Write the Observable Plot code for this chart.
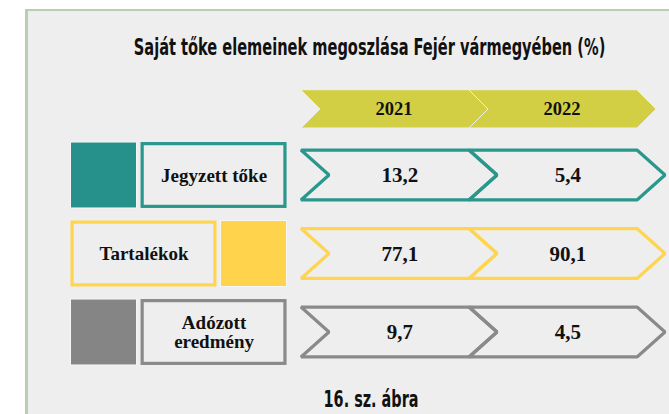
<!DOCTYPE html>
<html>
<head>
<meta charset="utf-8">
<script src="https://cdn.jsdelivr.net/npm/d3@7"></script>
<script src="https://cdn.jsdelivr.net/npm/@observablehq/plot@0.6"></script>
<style>
  html, body { margin: 0; padding: 0; background: #ffffff; }
  #wrap { position: relative; width: 669px; height: 414px; overflow: hidden; background: #ffffff; }
  #panel { position: absolute; left: 25px; top: 9px; width: 644px; height: 405px; box-sizing: border-box;
           background: #eeeeee; border-left: 3px solid #b7ceb2; border-top: 2px solid #b7ceb2; }
  #chart { position: absolute; left: 0; top: 0; }
</style>
</head>
<body>
<div id="wrap"><div id="panel"></div><div id="chart"></div></div>
<script>
// ---- data ----
const title = "Saját tőke elemeinek megoszlása Fejér vármegyében (%)";
const caption = "16. sz. ábra";
const categories = ["Jegyzett tőke", "Tartalékok", "Adózott eredmény"];
const categoryLabels = ["Jegyzett tőke", "Tartalékok", "Adózott\neredmény"];
const years = ["2021", "2022"];
const values2021 = [13.2, 77.1, 9.7];
const values2022 = [5.4, 90.1, 4.5];

// ---- styles ----
const lineColors = ["#2a978d", "#ffd54f", "#8a8a8a"];
const fillColors = ["#25918a", "#ffd44c", "#858585"];
const headerFill = "#d3cf45";
const serif = "Liberation Serif, 'Times New Roman', Times, serif";
const narrow = "'Liberation Sans Narrow', 'DejaVu Sans Condensed', 'Arial Narrow', sans-serif";

// ---- layout (in scale units: x = year column, y = category row) ----
const ROW_H = 0.318, CHEV_D = 28 / 168;
const HEAD_Y = -0.841, HEAD_H = 0.242, HEAD_D = 19 / 168;
const BOX_H = 0.42;
const LEG_L = -1.372, SMALL_W = 0.393, GAP = 0.024, BIG_W = 0.869;

const fmt = v => d3.format(".1f")(v).replace(".", ",");
const valuesByYear = [values2021, values2022];

function chevron(id, j, cy, h, d, color) {
  return [
    {id, color, y: cy - h, x1: j, x2: j + 1},
    {id, color, y: cy, x1: j + d, x2: j + 1 + d},
    {id, color, y: cy + h, x1: j, x2: j + 1}
  ];
}

const headerShapes = years.flatMap((yr, j) => chevron("h" + j, j, HEAD_Y, HEAD_H, HEAD_D, headerFill));
const cellShapes = categories.flatMap((c, i) =>
  years.flatMap((yr, j) => chevron(c + j, j, i, ROW_H, CHEV_D, lineColors[i])));
const cellLabels = categories.flatMap((c, i) =>
  years.map((yr, j) => ({x: j + 0.585, y: i, t: fmt(valuesByYear[j][i])})));
const headerLabels = years.map((yr, j) => ({x: j + 0.55, y: HEAD_Y, t: yr}));

const squares = [], boxes = [], boxLabels = [];
categories.forEach((c, i) => {
  const swapped = i % 2 === 1;
  const sq = swapped ? LEG_L + BIG_W + GAP : LEG_L;
  const bx = swapped ? LEG_L : LEG_L + SMALL_W + GAP;
  squares.push({x1: sq, x2: sq + SMALL_W, y1: i - BOX_H, y2: i + BOX_H, color: fillColors[i]});
  boxes.push({x1: bx, x2: bx + BIG_W, y1: i - BOX_H, y2: i + BOX_H, color: lineColors[i]});
  boxLabels.push({x: bx + BIG_W / 2, y: i, t: categoryLabels[i]});
});

const chart = Plot.plot({
  width: 669,
  height: 414,
  margin: 0,
  style: {background: "transparent"},
  x: {domain: [0, 2], range: [301, 637], axis: null},
  y: {domain: [0, 2], range: [175, 332], axis: null},
  color: {type: "identity"},
  marks: [
    Plot.areaX(headerShapes, {y: "y", x1: "x1", x2: "x2", z: "id", fill: headerFill, stroke: "#eeeeee", strokeWidth: 1, curve: "linear"}),
    Plot.text(headerLabels, {x: "x", y: "y", text: "t", fontFamily: serif, fontWeight: "bold", fontSize: 18.5, fill: "#111"}),
    Plot.areaX(cellShapes, {y: "y", x1: "x1", x2: "x2", z: "id", fill: "none", stroke: "color", strokeWidth: 3.2, strokeLinejoin: "miter", curve: "linear"}),
    Plot.text(cellLabels, {x: "x", y: "y", text: "t", fontFamily: serif, fontWeight: "bold", fontSize: 21, fill: "#111"}),
    Plot.rect(squares, {x1: "x1", x2: "x2", y1: "y1", y2: "y2", fill: "color", stroke: "#f6f6f6", strokeWidth: 1}),
    Plot.rect(boxes, {x1: "x1", x2: "x2", y1: "y1", y2: "y2", fill: "none", stroke: "color", strokeWidth: 3.2, inset: 1.6}),
    Plot.text(boxLabels, {x: "x", y: "y", text: "t", fontFamily: serif, fontWeight: "bold", fontSize: 19, lineHeight: 1.0, fill: "#111"}),
    Plot.text([{x: 0.405, y: -1.529, t: title}], {x: "x", y: "y", text: "t", lineAnchor: "bottom", fontFamily: narrow, fontWeight: "bold", fontSize: 23, fill: "#111"}),
    Plot.text([{x: 0.414, y: 2.943, t: caption}], {x: "x", y: "y", text: "t", lineAnchor: "bottom", fontFamily: narrow, fontWeight: "bold", fontSize: 23, fill: "#111"})
  ]
});

document.getElementById("chart").appendChild(chart);

// squeeze the condensed title/caption horizontally to the reference widths
const targets = new Map([[title, 472], [caption, 95]]);
d3.select(chart).selectAll("text").each(function () {
  const t = this.textContent;
  if (!targets.has(t)) return;
  const w = this.getComputedTextLength();
  const sx = Math.min(1, targets.get(t) / w);
  const tr = this.getAttribute("transform");
  if (tr && !this.hasAttribute("x")) {
    this.setAttribute("transform", tr + ` scale(${sx},1)`);
  } else {
    this.setAttribute("textLength", targets.get(t));
    this.setAttribute("lengthAdjust", "spacingAndGlyphs");
  }
});
</script>
</body>
</html>
